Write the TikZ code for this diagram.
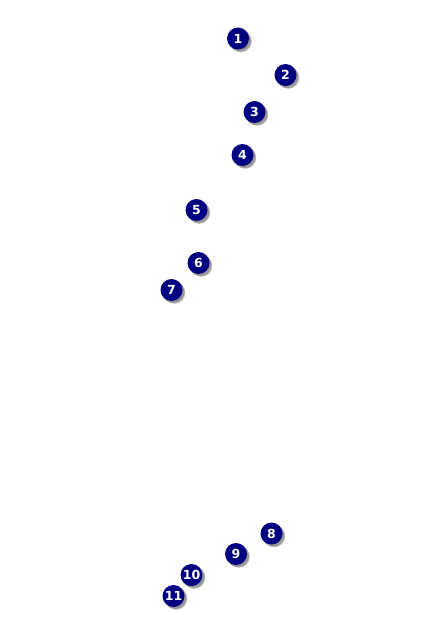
\documentclass[tikz,border=0pt]{standalone}
\usepackage{fontspec}
\setmainfont{DejaVu Sans}
\definecolor{navyc}{RGB}{0,0,128}
\definecolor{shadowc}{RGB}{150,150,150}
\tikzset{
  badge/.style={circle, fill=navyc, draw=none, minimum size=22pt, inner sep=0pt,
    text=white, font=\fontsize{12.5}{12.5}\selectfont\bfseries,
    preaction={fill=shadowc!60, transform canvas={shift={(2.8pt,-2.8pt)}}},
    preaction={fill=shadowc, transform canvas={shift={(2pt,-2pt)}}}}
}
\begin{document}
\begin{tikzpicture}[x=1pt,y=-1pt]
\useasboundingbox (0,0) rectangle (442,624);
\node[badge] (n1) at (238,38.5) {1};
\node[badge] (n2) at (285.5,75) {2};
\node[badge] (n3) at (254.5,112) {3};
\node[badge] (n4) at (242.5,155) {4};
\node[badge] (n5) at (196.5,210) {5};
\node[badge] (n6) at (198.5,263) {6};
\node[badge] (n7) at (171.5,290) {7};
\node[badge] (n8) at (271.5,533.5) {8};
\node[badge] (n9) at (236,554) {9};
\node[badge] (n10) at (191.5,575) {10};
\node[badge] (n11) at (173.5,596) {11};
\end{tikzpicture}
\end{document}
